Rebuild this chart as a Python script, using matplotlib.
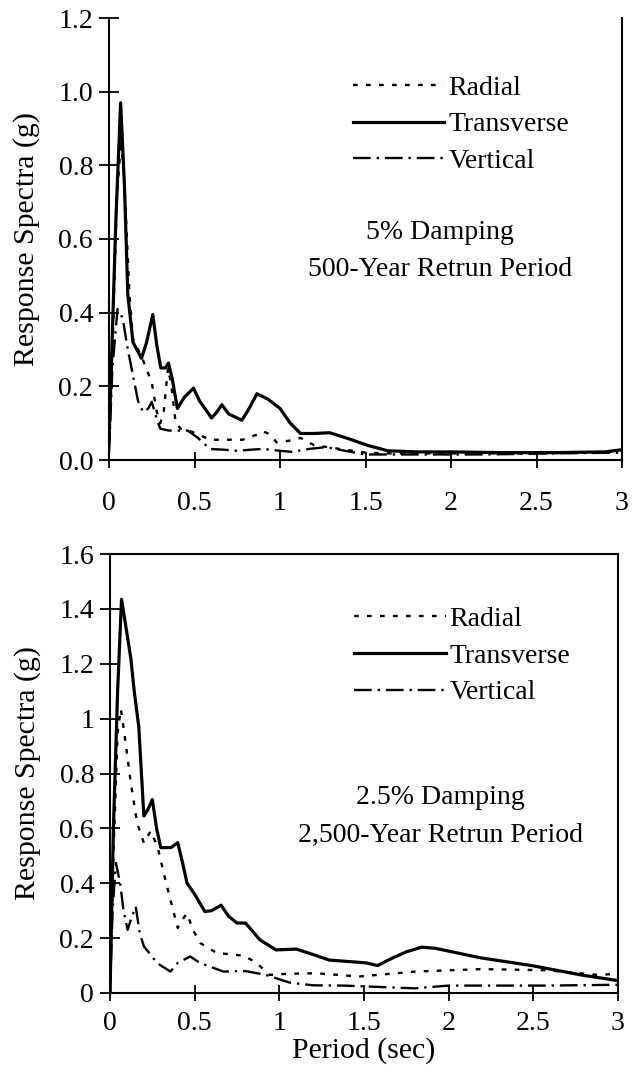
import matplotlib
matplotlib.use('Agg')
import matplotlib.pyplot as plt
import numpy as np

plt.rcParams['font.family'] = ['Liberation Serif', 'DejaVu Serif']

# ---- 5% damping, 500-year return period (top) ----
t1_x = [0, 0.02, 0.04, 0.068, 0.09, 0.11, 0.14, 0.19, 0.22, 0.256, 0.28, 0.303, 0.33,
        0.348, 0.37, 0.40, 0.44, 0.494, 0.53, 0.60, 0.63, 0.66, 0.70, 0.777, 0.82,
        0.865, 0.93, 1.0, 1.06, 1.12, 1.2, 1.29, 1.4, 1.51, 1.63, 1.8, 2.0, 2.3, 2.6,
        2.9, 3.0]
t1_y = [0.05, 0.35, 0.65, 0.97, 0.75, 0.45, 0.32, 0.276, 0.32, 0.395, 0.31, 0.25, 0.25,
        0.263, 0.22, 0.14, 0.17, 0.195, 0.16, 0.114, 0.13, 0.15, 0.125, 0.108, 0.14,
        0.18, 0.165, 0.14, 0.10, 0.072, 0.072, 0.074, 0.058, 0.04, 0.025, 0.022, 0.022,
        0.02, 0.02, 0.022, 0.028]

r1_x = [0, 0.02, 0.045, 0.07, 0.09, 0.12, 0.14, 0.2, 0.25, 0.28, 0.3, 0.32, 0.345,
        0.365, 0.39, 0.42, 0.455, 0.52, 0.59, 0.7, 0.78, 0.86, 0.9, 0.94, 0.98, 1.05,
        1.12, 1.2, 1.35, 1.5, 1.62, 2.0, 2.5, 2.8, 3.0]
r1_y = [0.03, 0.3, 0.7, 0.87, 0.75, 0.45, 0.33, 0.27, 0.21, 0.13, 0.10, 0.13, 0.25,
        0.2, 0.1, 0.085, 0.082, 0.07, 0.055, 0.055, 0.055, 0.068, 0.078, 0.07, 0.048,
        0.052, 0.06, 0.04, 0.03, 0.02, 0.018, 0.018, 0.018, 0.02, 0.025]

v1_x = [0, 0.02, 0.05, 0.08, 0.11, 0.14, 0.17, 0.2, 0.23, 0.25, 0.28, 0.30, 0.35, 0.4,
        0.46, 0.52, 0.59, 0.67, 0.75, 0.83, 0.9, 1.0, 1.07, 1.17, 1.27, 1.38, 1.5, 1.8,
        2.2, 2.6, 3.0]
v1_y = [0.02, 0.25, 0.41, 0.385, 0.3, 0.23, 0.16, 0.13, 0.14, 0.158, 0.11, 0.085, 0.08,
        0.08, 0.08, 0.06, 0.03, 0.028, 0.025, 0.028, 0.03, 0.025, 0.022, 0.03, 0.035,
        0.025, 0.015, 0.015, 0.015, 0.018, 0.02]

# ---- 2.5% damping, 2,500-year return period (bottom) ----
t2_x = [0, 0.02, 0.045, 0.068, 0.09, 0.123, 0.143, 0.17, 0.2, 0.225, 0.25, 0.275, 0.3,
        0.36, 0.40, 0.43, 0.455, 0.5, 0.56, 0.6, 0.656, 0.7, 0.75, 0.8, 0.885, 0.98,
        1.1, 1.2, 1.295, 1.51, 1.58, 1.67, 1.75, 1.84, 1.92, 2.19, 2.49, 2.78, 3.0]
t2_y = [0.0, 0.6, 1.1, 1.435, 1.35, 1.22, 1.10, 0.97, 0.645, 0.67, 0.705, 0.6, 0.53,
        0.53, 0.548, 0.47, 0.40, 0.36, 0.297, 0.3, 0.32, 0.28, 0.255, 0.255, 0.194,
        0.157, 0.16, 0.14, 0.12, 0.11, 0.1, 0.128, 0.15, 0.167, 0.163, 0.128, 0.1,
        0.066, 0.045]

r2_x = [0, 0.02, 0.045, 0.064, 0.084, 0.123, 0.16, 0.2, 0.24, 0.28, 0.32, 0.357, 0.40,
        0.43, 0.455, 0.49, 0.533, 0.63, 0.79, 0.865, 0.943, 1.05, 1.22, 1.47, 1.8,
        2.19, 2.58, 2.88, 3.0]
r2_y = [0.0, 0.5, 0.95, 1.035, 0.95, 0.766, 0.62, 0.547, 0.59, 0.535, 0.43, 0.34, 0.237,
        0.27, 0.29, 0.23, 0.182, 0.146, 0.136, 0.11, 0.066, 0.07, 0.072, 0.06, 0.078,
        0.087, 0.083, 0.066, 0.07]

v2_x = [0, 0.015, 0.035, 0.06, 0.08, 0.104, 0.13, 0.152, 0.175, 0.2, 0.28, 0.357, 0.4,
        0.474, 0.53, 0.67, 0.8, 0.92, 1.06, 1.2, 1.38, 1.8, 2.0, 2.58, 3.0]
v2_y = [0.0, 0.3, 0.474, 0.4, 0.3, 0.23, 0.28, 0.315, 0.22, 0.17, 0.108, 0.078, 0.11,
        0.133, 0.11, 0.078, 0.08, 0.066, 0.038, 0.028, 0.027, 0.017, 0.027, 0.027, 0.03]

x_ticks = [0, 0.5, 1, 1.5, 2, 2.5, 3]
x_labels = ['0', '0.5', '1', '1.5', '2', '2.5', '3']
top_yticks = [0.0, 0.2, 0.4, 0.6, 0.8, 1.0, 1.2]
top_ylabels = ['0.0', '0.2', '0.4', '0.6', '0.8', '1.0', '1.2']
bot_yticks = [0, 0.2, 0.4, 0.6, 0.8, 1.0, 1.2, 1.4, 1.6]
bot_ylabels = ['0', '0.2', '0.4', '0.6', '0.8', '1', '1.2', '1.4', '1.6']

W, H = 640, 1088
fig = plt.figure(figsize=(6.4, 10.88), dpi=100)
ax1 = fig.add_axes([109 / W, 1 - 460 / H, 513 / W, 442 / H])
ax2 = fig.add_axes([110 / W, 1 - 993 / H, 508 / W, 439 / H])

FS = 20


def draw_panel(ax, tx, ty, rx, ry, vx, vy, yticks, ylabels, ymax, xpad):
    lr, = ax.plot(rx, ry, color='black', lw=1.7, label='Radial')
    lr.set_dashes([2.0, 3.5])
    ax.plot(tx, ty, color='black', lw=2.3, label='Transverse', solid_joinstyle='round')
    lv, = ax.plot(vx, vy, color='black', lw=1.7, label='Vertical')
    lv.set_dashes([7.5, 2.5, 1.0, 2.5])
    ax.set_xlim(0, 3)
    ax.set_ylim(0, ymax)
    ax.set_xticks(x_ticks)
    ax.set_xticklabels(x_labels)
    ax.set_yticks(yticks)
    ax.set_yticklabels(ylabels)
    ax.tick_params(axis='y', direction='inout', length=15, width=1.3, labelsize=FS, pad=4)
    ax.tick_params(axis='x', direction='inout', length=12, width=1.3, labelsize=FS, pad=xpad)
    for s in ax.spines.values():
        s.set_linewidth(1.5)
    ax.set_ylabel('Response Spectra (g)', fontsize=21.5)
    ax.yaxis.set_label_coords(-0.135, 0.5)


draw_panel(ax1, t1_x, t1_y, r1_x, r1_y, v1_x, v1_y, top_yticks, top_ylabels, 1.2, 16)
ax1.spines['top'].set_visible(False)
ax1.legend(loc='upper left', bbox_to_anchor=(0.475, 0.87), frameon=False, fontsize=FS,
           handlelength=3.3, handletextpad=0.15, labelspacing=0.4, borderpad=0,
           borderaxespad=0)
ax1.text(0.645, 0.515, '5% Damping', transform=ax1.transAxes, ha='center', va='center',
         fontsize=FS)
ax1.text(0.645, 0.43, '500-Year Retrun Period', transform=ax1.transAxes, ha='center',
         va='center', fontsize=FS)

draw_panel(ax2, t2_x, t2_y, r2_x, r2_y, v2_x, v2_y, bot_yticks, bot_ylabels, 1.6, 7)
ax2.legend(loc='upper left', bbox_to_anchor=(0.48, 0.88), frameon=False, fontsize=FS,
           handlelength=3.3, handletextpad=0.15, labelspacing=0.4, borderpad=0,
           borderaxespad=0)
ax2.text(0.65, 0.445, '2.5% Damping', transform=ax2.transAxes, ha='center', va='center',
         fontsize=FS)
ax2.text(0.65, 0.36, '2,500-Year Retrun Period', transform=ax2.transAxes, ha='center',
         va='center', fontsize=FS)
ax2.set_xlabel('Period (sec)', fontsize=21.5, labelpad=1)

fig.savefig('out.png', dpi=100)
